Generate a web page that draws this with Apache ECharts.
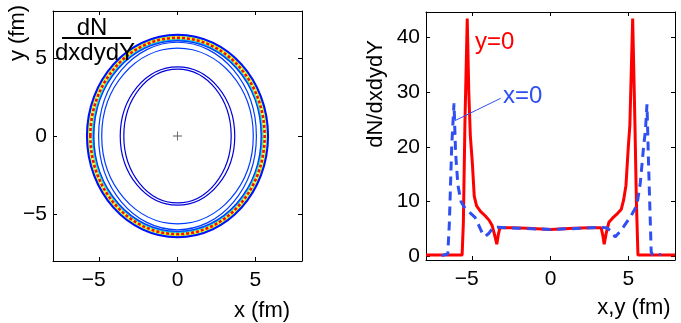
<!DOCTYPE html>
<html>
<head>
<meta charset="utf-8">
<script src="https://cdn.jsdelivr.net/npm/echarts@6/dist/echarts.min.js"></script>
<style>
  html, body { margin: 0; padding: 0; background: #fff; }
  #main { width: 681px; height: 323px; }
</style>
</head>
<body>
<div id="main"></div>
<script>
// left panel: contour levels drawn as ellipses (semi-axes in fm, level in dN/dxdydY)
// order = drawing order; the outer blue edge goes last so it stays on top
const contourRx = [3.45, 3.68, 4.87, 5.07, 5.75, 5.71, 5.67, 5.53, 5.48, 5.43, 5.38, 5.6, 5.82];
const contourRy = [4.28, 4.43, 5.62, 6.0, 6.42, 6.38, 6.34, 6.22, 6.18, 6.14, 6.1, 6.28, 6.48];
const contourLevel = [4, 4, 8, 8, 14, 21, 28, 28, 21, 14, 8, 38, 6];
const centerMark = [[0, 0]];

// right panel: cuts through the distribution
const redX = [-8, -5.68, -5.6, -5.5, -5.35, -5.25, -5.15, -5.02, -4.9, -4.75, -4.5, -4.2, -3.95, -3.75, -3.6, -3.45, -3.35, -3.25, -2.5, -1.5, 0, 1.5, 2.5, 3.25, 3.35, 3.45, 3.58, 3.75, 4.0, 4.3, 4.55, 4.7, 4.85, 5.0, 5.1, 5.28, 5.42, 5.52, 5.62, 8];
const redY = [0.2, 0.2, 6, 24, 43.5, 30, 22, 17, 11, 9.2, 8.2, 7.4, 6.6, 5.6, 4, 2.2, 4, 5.2, 5.2, 5.1, 4.9, 5.1, 5.2, 5.2, 4, 2.2, 4.2, 6.2, 7.0, 7.8, 8.6, 10.3, 13, 20, 24, 43.5, 25, 10, 0.2, 0.2];
const blueX = [-7, -6.6, -6.5, -6.35, -6.2, -6.1, -5.95, -5.75, -5.55, -5.2, -4.85, -4.6, -4.4, -4.2, -3.95, -3.7, -3.4, -2, 0, 2, 3.1, 3.6, 3.9, 4.15, 4.4, 4.7, 5.2, 5.55, 5.77, 5.98, 6.1, 6.2, 6.3, 6.47, 6.55, 7.1];
const blueY = [0.1, 0.4, 6, 20, 28, 19, 13, 10, 9, 8, 7.1, 5.6, 4.3, 3.6, 4.2, 5.2, 5.3, 5.1, 4.9, 5.1, 5.3, 5.2, 4.6, 3.5, 4.3, 5.4, 7.5, 9.3, 13.4, 20, 23, 27.8, 17, 0.8, 0.3, 0.3];
const leaderLine = [[-6.15, 24.8], [-3.2, 28.9]];

const xyTicks = [-5, 0, 5];
const dnTicks = [0, 10, 20, 30, 40];

const FONT = 'Liberation Sans, Arial, sans-serif';
const RED = '#ff0000';
const BLUE = '#2f4ff2';
const MAXLEVEL = 44;

function clamp(v) { return Math.max(0, Math.min(1, v)); }
function jet(level) {
  const t = level / MAXLEVEL;
  const r = clamp(Math.min(4 * t - 1.5, -4 * t + 4.5));
  const g = clamp(Math.min(4 * t - 0.5, -4 * t + 3.5));
  const b = clamp(Math.min(4 * t + 0.5, -4 * t + 2.5));
  return 'rgb(' + Math.round(r * 255) + ',' + Math.round(g * 255) + ',' + Math.round(b * 255) + ')';
}

function zip(a, b) { return a.map((v, i) => [v, b[i]]); }

const contourData = contourRx.map((rx, i) => [rx, contourRy[i], contourLevel[i]]);

function tickFmt(v) {
  return v < 0 ? '{n|\u2212' + (-v) + '}' : String(v);
}

function mainAxis(grid, pos, min, max, ticks, isX) {
  return {
    type: 'value', gridIndex: grid, position: pos, min: min, max: max,
    axisLine: { show: true, onZero: false, lineStyle: { color: '#000', width: 1 } },
    axisTick: { show: true, inside: true, length: 4, customValues: ticks, lineStyle: { color: '#000' } },
    axisLabel: {
      show: true, customValues: ticks, color: '#000', fontSize: 21, fontFamily: FONT,
      margin: isX ? 9 : 6,
      formatter: isX ? tickFmt : function (v) { return String(v).replace('-', '\u2212'); },
      rich: { n: { fontSize: 21, fontFamily: FONT, color: '#000', padding: [0, 12, 0, 0] } }
    },
    splitLine: { show: false }
  };
}
function mirrorAxis(grid, pos, min, max, ticks) {
  return {
    type: 'value', gridIndex: grid, position: pos, min: min, max: max,
    axisLine: { show: true, onZero: false, lineStyle: { color: '#000', width: 1 } },
    axisTick: { show: true, inside: true, length: 4, customValues: ticks, lineStyle: { color: '#000' } },
    axisLabel: { show: false },
    splitLine: { show: false }
  };
}

const myChart = echarts.init(document.getElementById('main'), null, { renderer: 'canvas' });

const option = {
  animation: false,
  backgroundColor: '#fff',
  grid: [
    { left: 53, top: 11, width: 249, height: 250 },
    { left: 426, top: 12, width: 249, height: 248 }
  ],
  xAxis: [
    mainAxis(0, 'bottom', -8, 8, xyTicks, true),
    mirrorAxis(0, 'top', -8, 8, xyTicks),
    mainAxis(1, 'bottom', -8, 8, xyTicks, true),
    mirrorAxis(1, 'top', -8, 8, xyTicks)
  ],
  yAxis: [
    mainAxis(0, 'left', -8, 8, xyTicks, false),
    mirrorAxis(0, 'right', -8, 8, xyTicks),
    mainAxis(1, 'left', -0.7, 44.7, dnTicks, false),
    mirrorAxis(1, 'right', -0.7, 44.7, dnTicks)
  ],
  series: [
    {
      type: 'custom',
      coordinateSystem: 'cartesian2d',
      xAxisIndex: 0, yAxisIndex: 0,
      data: contourData,
      encode: { x: 0, y: 1 },
      renderItem: function (params, api) {
        const c = api.coord([0, 0]);
        const s = api.size([api.value(0), api.value(1)]);
        const level = api.value(2);
        const idx = params.dataIndex;
        const isPeak = level >= 38;
        const isEdge = idx === contourRx.length - 1;
        const inBand = idx >= 4;
        return {
          type: 'ellipse',
          shape: { cx: c[0], cy: c[1], rx: s[0], ry: s[1] },
          style: {
            fill: 'none',
            stroke: jet(level),
            lineWidth: isPeak ? 2.6 : (isEdge ? 2 : (inBand ? 1.5 : 1.2)),
            lineDash: isPeak ? [3, 2] : null
          }
        };
      },
      z: 2
    },
    {
      type: 'scatter',
      xAxisIndex: 0, yAxisIndex: 0,
      data: centerMark,
      symbol: 'path://M-0.5,-5H0.5V-0.5H5V0.5H0.5V5H-0.5V0.5H-5V-0.5H-0.5Z',
      symbolSize: 9,
      itemStyle: { color: '#333' },
      z: 3
    },
    {
      type: 'line',
      name: 'y=0',
      xAxisIndex: 2, yAxisIndex: 2,
      data: zip(redX, redY),
      showSymbol: false,
      lineStyle: { color: RED, width: 3 },
      z: 2
    },
    {
      type: 'line',
      name: 'x=0',
      xAxisIndex: 2, yAxisIndex: 2,
      data: zip(blueX, blueY),
      showSymbol: false,
      lineStyle: { color: BLUE, width: 3, type: [9, 6] },
      markLine: {
        silent: true,
        symbol: ['none', 'none'],
        label: { show: false },
        lineStyle: { color: BLUE, width: 1, type: 'solid' },
        data: [[{ coord: leaderLine[0] }, { coord: leaderLine[1] }]]
      },
      z: 3
    }
  ],
  graphic: [
    { type: 'text', x: 92, y: 28, z: 10, style: { text: 'dN', font: '24px ' + FONT, fill: '#000', align: 'center', verticalAlign: 'middle' } },
    { type: 'line', z: 10, shape: { x1: 62, y1: 38, x2: 131, y2: 38 }, style: { stroke: '#000', lineWidth: 2 } },
    { type: 'text', x: 95, y: 53, z: 10, style: { text: 'dxdydY', font: '24px ' + FONT, fill: '#000', align: 'center', verticalAlign: 'middle' } },
    { type: 'text', x: 18, y: 33, rotation: Math.PI / 2, style: { text: 'y (fm)', font: '22px ' + FONT, fill: '#000', align: 'center', verticalAlign: 'middle' } },
    { type: 'text', x: 262, y: 311, style: { text: 'x (fm)', font: '22px ' + FONT, fill: '#000', align: 'center', verticalAlign: 'middle' } },
    { type: 'text', x: 376, y: 94, rotation: Math.PI / 2, style: { text: 'dN/dxdydY', font: '22px ' + FONT, fill: '#000', align: 'center', verticalAlign: 'middle' } },
    { type: 'text', x: 634, y: 308, style: { text: 'x,y (fm)', font: '22px ' + FONT, fill: '#000', align: 'center', verticalAlign: 'middle' } },
    { type: 'text', x: 475, y: 42, z: 10, style: { text: 'y=0', font: '24px ' + FONT, fill: RED, align: 'left', verticalAlign: 'middle' } },
    { type: 'text', x: 503, y: 96, z: 10, style: { text: 'x=0', font: '24px ' + FONT, fill: BLUE, align: 'left', verticalAlign: 'middle' } }
  ]
};

option && myChart.setOption(option);
</script>
</body>
</html>
